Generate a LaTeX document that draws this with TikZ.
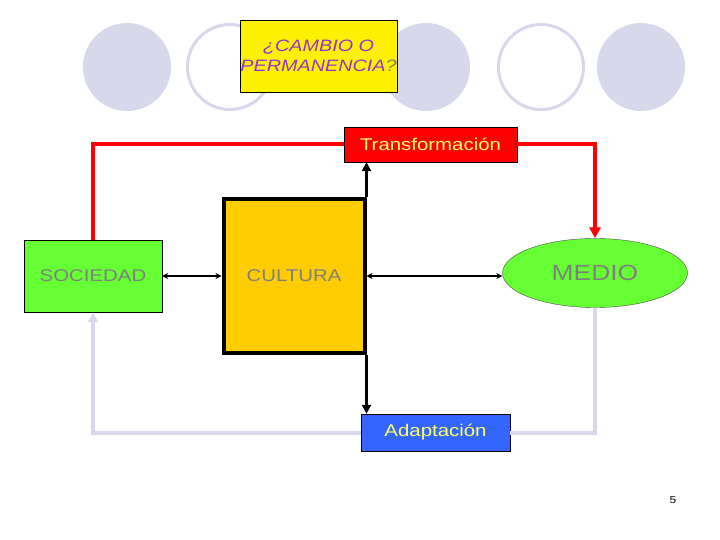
\documentclass[tikz,border=0pt]{standalone}
\usepackage{fontspec}
\setmainfont{Liberation Sans}[FakeStretch=1.2]
\usetikzlibrary{shapes.geometric,arrows.meta}
\definecolor{lav}{HTML}{D8D8EC}
\definecolor{boxgreen}{HTML}{66FF33}
\definecolor{cultfill}{HTML}{FFCC00}
\definecolor{adapblue}{HTML}{3366FF}
\definecolor{txtgrey}{HTML}{7F7F7F}
\definecolor{purp}{HTML}{9933CC}
\definecolor{olive}{HTML}{808060}
\definecolor{lightyel}{HTML}{FFFF66}
\tikzset{
  lavcirc/.style={fill=lav},
  lavring/.style={draw=lav,line width=3pt},
  redline/.style={draw=red,line width=4pt},
  lavline/.style={draw=lav,line width=4pt},
  blkline/.style={draw=black,line width=3.5pt},
  thinarrow/.style={draw=black,line width=2pt,{Stealth[length=6pt,width=6pt]}-{Stealth[length=6pt,width=6pt]}},
  boxtext/.style={text=txtgrey,font=\fontsize{17}{20}\selectfont},
}
\begin{document}
\begin{tikzpicture}[x=1pt,y=-1pt]
\useasboundingbox (0,0) rectangle (720,540);
% decorative circles
\fill[lavcirc] (127,67) circle (44);
\draw[lavring] (230,67) circle (42.5);
\fill[lavcirc] (426,67) circle (44);
\draw[lavring] (541,67) circle (42.5);
\fill[lavcirc] (641,67) circle (44);
% nodes
\node[draw=black,fill=yellow,minimum width=157,minimum height=72,inner sep=0,
  align=center,font=\fontsize{16.5}{20}\selectfont\itshape,text=purp] (q) at (318.5,56)
  {¿CAMBIO O\\PERMANENCIA\textcolor{olive}{?}};
\node[draw=black,fill=red,minimum width=173,minimum height=35,inner sep=0,
  text=lightyel,font=\fontsize{17}{18}\selectfont] (trans) at (430.5,144.5) {Transformación};
\node[draw=black,fill=boxgreen,minimum width=138,minimum height=72,inner sep=0,boxtext] (soc) at (93,276) {SOCIEDAD};
\node[draw=black,line width=4pt,fill=cultfill,minimum width=141,minimum height=153,inner sep=0,boxtext] (cult) at (294,276) {CULTURA};
\node[ellipse,draw=black!70,fill=boxgreen,minimum width=185,minimum height=69,inner sep=0,
  text=txtgrey,font=\fontsize{22}{26}\selectfont] (medio) at (595,273) {\raisebox{-1pt}{MEDIO}};
\node[draw=black,fill=adapblue,minimum width=149,minimum height=37,inner sep=0,
  text=lightyel,font=\fontsize{17}{19}\selectfont] (adap) at (435.5,432.5) {Adaptación};
\node[font=\fontsize{10}{12}\selectfont] (pg) at (673,500) {5};
% connectors
\draw[redline] (soc.north) |- (trans.west);
\draw[redline,-{Triangle[length=11pt,width=11pt]}] (trans.east) -| (medio.north);
\draw[lavline,-{Triangle[length=10pt,width=10pt]}] (adap.west) -| (soc.south);
\draw[lavline] (adap.east) -| (medio.south);
\draw[blkline,-{Triangle[length=9pt,width=9pt]}] (cult.north east) -- (cult.north east |- trans.south);
\draw[blkline,-{Triangle[length=9pt,width=9pt]}] (cult.south east) -- (cult.south east |- adap.north);
\draw[thinarrow] (soc.east) -- (cult.west);
\draw[thinarrow] (cult.east) -- (cult.east -| medio.west);
\end{tikzpicture}
\end{document}
